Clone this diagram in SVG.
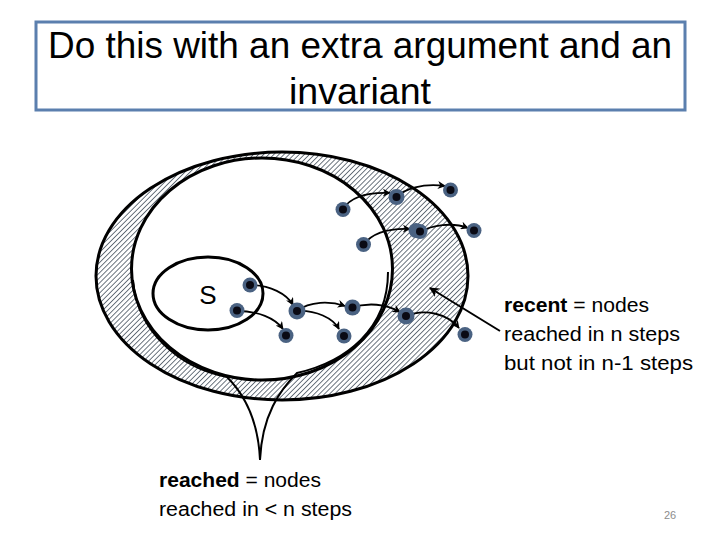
<svg xmlns="http://www.w3.org/2000/svg" width="720" height="540" viewBox="0 0 720 540">
<style>
.t{font-family:"Liberation Sans","DejaVu Sans",sans-serif;fill:#000}
.ring{stroke:#000;stroke-width:3;fill:none}
.arr{stroke:#000;stroke-width:1.8;fill:none;marker-end:url(#ah)}
.halo{fill:#4a6282}
.core{fill:#0a0a14}
</style>
<defs>
<pattern id="hatch" width="3.6" height="3.6" patternUnits="userSpaceOnUse" patternTransform="rotate(45)">
<rect width="3.6" height="3.6" fill="#ffffff"/>
<rect x="0" y="0" width="0.8" height="3.6" fill="#4a5562"/>
</pattern>
<marker id="ah" viewBox="0 0 10 10" refX="9" refY="5" markerWidth="8" markerHeight="8" orient="auto" markerUnits="userSpaceOnUse">
<path d="M0,0 L10,5 L0,10 L3,5 Z" fill="#000"/>
</marker>
<marker id="ah2" viewBox="0 0 10 10" refX="9" refY="5" markerWidth="10" markerHeight="10" orient="auto" markerUnits="userSpaceOnUse">
<path d="M0,0 L10,5 L0,10 L3,5 Z" fill="#000"/>
</marker>
</defs>
<rect width="720" height="540" fill="#fff"/>

<g id="title">
<rect x="36" y="22" width="649" height="88" fill="#fff" stroke="#5b7fae" stroke-width="3"/>
<text class="t" x="360" y="58" font-size="36" text-anchor="middle" textLength="624" lengthAdjust="spacingAndGlyphs">Do this with an extra argument and an</text>
<text class="t" x="360" y="104" font-size="36" text-anchor="middle" textLength="142" lengthAdjust="spacingAndGlyphs">invariant</text>
</g>

<g id="recent-region">
<path d="M96,276 a186,124 0 1,0 372,0 a186,124 0 1,0 -372,0 Z M131.5,269 a130.5,111 0 1,0 261,0 a130.5,111 0 1,0 -261,0 Z" fill="url(#hatch)" fill-rule="evenodd"/>
<ellipse class="ring" cx="282" cy="276" rx="186" ry="124"/>
</g>

<g id="reached-region">
<path d="M133,280 C137,332 180,368 227,377 L297,376 C345,362 388,330 388,272 Z" fill="#fff"/>
<ellipse class="ring" cx="262" cy="269" rx="130.5" ry="111"/>
</g>

<g id="reached-callout">
<path d="M133,280 C137,332 180,368 227,377 C240,390 258,415 260,460 C262,415 280,390 297,373 C345,362 388,330 388,272" fill="none" stroke="#000" stroke-width="2"/>
<text class="t" x="159" y="487" font-size="20" textLength="162" lengthAdjust="spacingAndGlyphs"><tspan font-weight="bold">reached</tspan> = nodes</text>
<text class="t" x="159" y="516" font-size="20" textLength="193" lengthAdjust="spacingAndGlyphs">reached in &lt; n steps</text>
</g>

<g id="S">
<ellipse class="ring" cx="208" cy="293.5" rx="55" ry="36.5"/>
<text class="t" x="208" y="304" font-size="26" text-anchor="middle">S</text>
</g>

<g id="connectors">
<path class="arr" d="M343,209 C350,198 365,192 390,193"/>
<path class="arr" d="M396,197 C405,189 422,183 445,186"/>
<path class="arr" d="M364,244 C372,234 386,228 410,229"/>
<path class="arr" d="M420,232 C432,225 452,222 468,228"/>
<path class="arr" d="M250,285 C270,285 287,294 293,305"/>
<path class="arr" d="M237,311 C258,311 275,318 283,329"/>
<path class="arr" d="M297,311 C310,301 330,301 345,306"/>
<path class="arr" d="M297,311 C316,310 333,318 339,329"/>
<path class="arr" d="M351,308 C368,302 386,304 400,312"/>
<path class="arr" d="M406,316 C425,308 448,314 459,328"/>
<path d="M500,331 L430,288" stroke="#000" stroke-width="2" fill="none" marker-end="url(#ah2)"/>
</g>

<g id="nodes">
<g id="n1"><circle class="halo" cx="343" cy="209.5" r="7.5"/><circle class="core" cx="343" cy="209.5" r="4"/></g>
<g id="n2"><circle class="halo" cx="396.5" cy="197" r="8"/><circle class="core" cx="396.5" cy="197" r="4"/></g>
<g id="n3"><circle class="halo" cx="450.5" cy="190" r="7.5"/><circle class="core" cx="450.5" cy="190" r="4"/></g>
<g id="n4"><circle class="halo" cx="363.5" cy="244.5" r="7.5"/><circle class="core" cx="363.5" cy="244.5" r="4"/></g>
<g id="n5"><circle class="halo" cx="416" cy="230.5" r="7.5"/><circle class="halo" cx="420" cy="231.5" r="7.5"/><circle class="core" cx="420" cy="231.5" r="4"/></g>
<g id="n6"><circle class="halo" cx="474" cy="230.5" r="7.5"/><circle class="core" cx="474" cy="230.5" r="4"/></g>
<g id="n7"><circle class="halo" cx="250" cy="285" r="7.5"/><circle class="core" cx="250" cy="285" r="4"/></g>
<g id="n8"><circle class="halo" cx="237" cy="310.5" r="7.5"/><circle class="core" cx="237" cy="310.5" r="4"/></g>
<g id="n9"><circle class="halo" cx="297" cy="311" r="8.5"/><circle class="core" cx="297" cy="311" r="4"/></g>
<g id="n10"><circle class="halo" cx="286" cy="335.5" r="7.5"/><circle class="core" cx="286" cy="335.5" r="4"/></g>
<g id="n11"><circle class="halo" cx="352.5" cy="307.5" r="8"/><circle class="core" cx="352.5" cy="307.5" r="4"/></g>
<g id="n12"><circle class="halo" cx="344" cy="336" r="7.5"/><circle class="core" cx="344" cy="336" r="4"/></g>
<g id="n13"><circle class="halo" cx="406" cy="316" r="8.5"/><circle class="core" cx="406" cy="316" r="4"/></g>
<g id="n14"><circle class="halo" cx="465" cy="334.5" r="7.5"/><circle class="core" cx="465" cy="334.5" r="4"/></g>
</g>

<g id="recent-label">
<text class="t" x="504" y="312" font-size="20" textLength="145" lengthAdjust="spacingAndGlyphs"><tspan font-weight="bold">recent</tspan> = nodes</text>
<text class="t" x="504" y="341" font-size="20" textLength="176" lengthAdjust="spacingAndGlyphs">reached in n steps</text>
<text class="t" x="504" y="370" font-size="20" textLength="189" lengthAdjust="spacingAndGlyphs">but not in n-1 steps</text>
</g>

<text class="t" x="670" y="519" font-size="11" text-anchor="middle" style="fill:#8c8c8c">26</text>
</svg>
